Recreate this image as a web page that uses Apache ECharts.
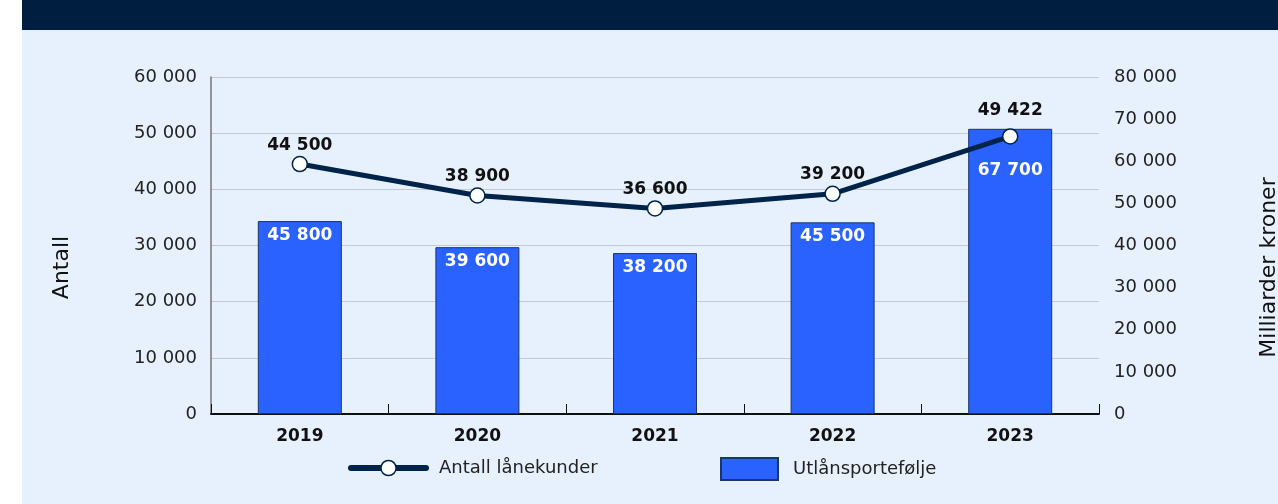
<!DOCTYPE html>
<html>
<head>
<meta charset="utf-8">
<script src="https://cdn.jsdelivr.net/npm/echarts@6/dist/echarts.min.js"></script>
<style>
html,body{margin:0;padding:0;background:#ffffff;}
#hdr{position:absolute;left:22px;top:0;width:1256px;height:30px;background:#001e3f;}
#bg{position:absolute;left:22px;top:30px;width:1256px;height:474px;background:#e7f1fd;}
#chart{position:absolute;left:0;top:0;width:1278px;height:504px;}
</style>
</head>
<body>
<div id="hdr"></div>
<div id="bg"></div>
<div id="chart"></div>
<script>
const categories = ['2019', '2020', '2021', '2022', '2023'];
const customers = [44500, 38900, 36600, 39200, 49422];
const portfolio = [45800, 39600, 38200, 45500, 67700];
const leftTicks = {min: 0, max: 60000, interval: 10000};
const rightTicks = {min: 0, max: 80000, interval: 10000};

function fmt(v) {
  return String(v).replace(/\B(?=(\d{3})+(?!\d))/g, ' ');
}
const axisFont = '"DejaVu Sans", sans-serif';
const valFont = '"DejaVu Sans", sans-serif';
const navy = '#00234a';

// last bar label sits lower to clear the line marker; last line label sits higher
const barLabelDist = categories.map((c, i) => i === categories.length - 1 ? 33 : 6);
const lineLabelDist = categories.map((c, i) => i === categories.length - 1 ? 9 : 2);

const chart = echarts.init(document.getElementById('chart'), null, {renderer: 'canvas'});
chart.setOption({
  backgroundColor: 'transparent',
  animation: false,
  grid: {left: 211, right: 179, top: 77, bottom: 90, containLabel: false, outerBoundsMode: 'none'},
  legend: [
    {
      data: [{
        name: 'Antall lånekunder',
        lineStyle: {width: 6, color: navy, cap: 'round'},
        itemStyle: {color: '#ffffff', borderColor: navy, borderWidth: 1.5}
      }],
      left: 343, top: 454,
      itemWidth: 75, itemHeight: 19, itemGap: 16,
      textStyle: {fontFamily: axisFont, fontSize: 18, color: '#222', padding: [3, 0, 0, 8]}
    },
    {
      data: [{name: 'Utlånsportefølje', icon: 'rect'}],
      left: 715, top: 452,
      itemWidth: 57, itemHeight: 22, itemGap: 16,
      textStyle: {fontFamily: axisFont, fontSize: 18, color: '#222', padding: [0, 0, 0, 10]}
    }
  ],
  xAxis: {
    type: 'category',
    data: categories,
    axisLine: {lineStyle: {color: '#111', width: 2}},
    axisTick: {show: true, inside: true, length: 10, lineStyle: {color: '#111', width: 1}},
    axisLabel: {fontFamily: axisFont, fontSize: 17, fontWeight: 'bold', color: '#111', margin: 14}
  },
  yAxis: [
    {
      type: 'value', min: leftTicks.min, max: leftTicks.max, interval: leftTicks.interval,
      name: 'Antall', nameLocation: 'middle', nameGap: 138, nameRotate: 90,
      nameTextStyle: {fontFamily: axisFont, fontSize: 22, color: '#111', padding: [0, 44, 0, 0]},
      axisLine: {show: true, lineStyle: {color: '#777', width: 1.5}},
      axisTick: {show: false},
      splitLine: {show: true, lineStyle: {color: '#c6c9cf', width: 1}},
      axisLabel: {fontFamily: axisFont, fontSize: 18, color: '#222', margin: 14, formatter: fmt}
    },
    {
      type: 'value', min: rightTicks.min, max: rightTicks.max, interval: rightTicks.interval,
      name: 'Milliarder kroner', nameLocation: 'middle', nameGap: 159, nameRotate: 90,
      nameTextStyle: {fontFamily: axisFont, fontSize: 22, color: '#111', padding: [0, 44, 0, 0]},
      axisLine: {show: false},
      axisTick: {show: false},
      splitLine: {show: false},
      axisLabel: {fontFamily: axisFont, fontSize: 18, color: '#222', margin: 15, formatter: fmt}
    }
  ],
  series: [
    {
      name: 'Utlånsportefølje',
      type: 'bar',
      yAxisIndex: 1,
      data: portfolio.map((v, i) => ({value: v, label: {distance: barLabelDist[i]}})),
      barWidth: 84,
      itemStyle: {color: '#2962ff', borderColor: '#1b3566', borderWidth: 1},
      label: {
        show: true, position: 'insideTop',
        fontFamily: valFont, fontSize: 17, fontWeight: 'bold', color: '#ffffff',
        formatter: p => fmt(p.value)
      },
      z: 2
    },
    {
      name: 'Antall lånekunder',
      type: 'line',
      yAxisIndex: 0,
      data: customers.map((v, i) => ({value: v, label: {distance: lineLabelDist[i]}})),
      symbol: 'circle',
      symbolSize: 15,
      lineStyle: {color: navy, width: 5},
      itemStyle: {color: '#ffffff', borderColor: navy, borderWidth: 1.5},
      label: {
        show: true, position: 'top',
        fontFamily: valFont, fontSize: 17, fontWeight: 'bold', color: '#111',
        formatter: p => fmt(p.value)
      },
      z: 5
    }
  ]
});
</script>
</body>
</html>
